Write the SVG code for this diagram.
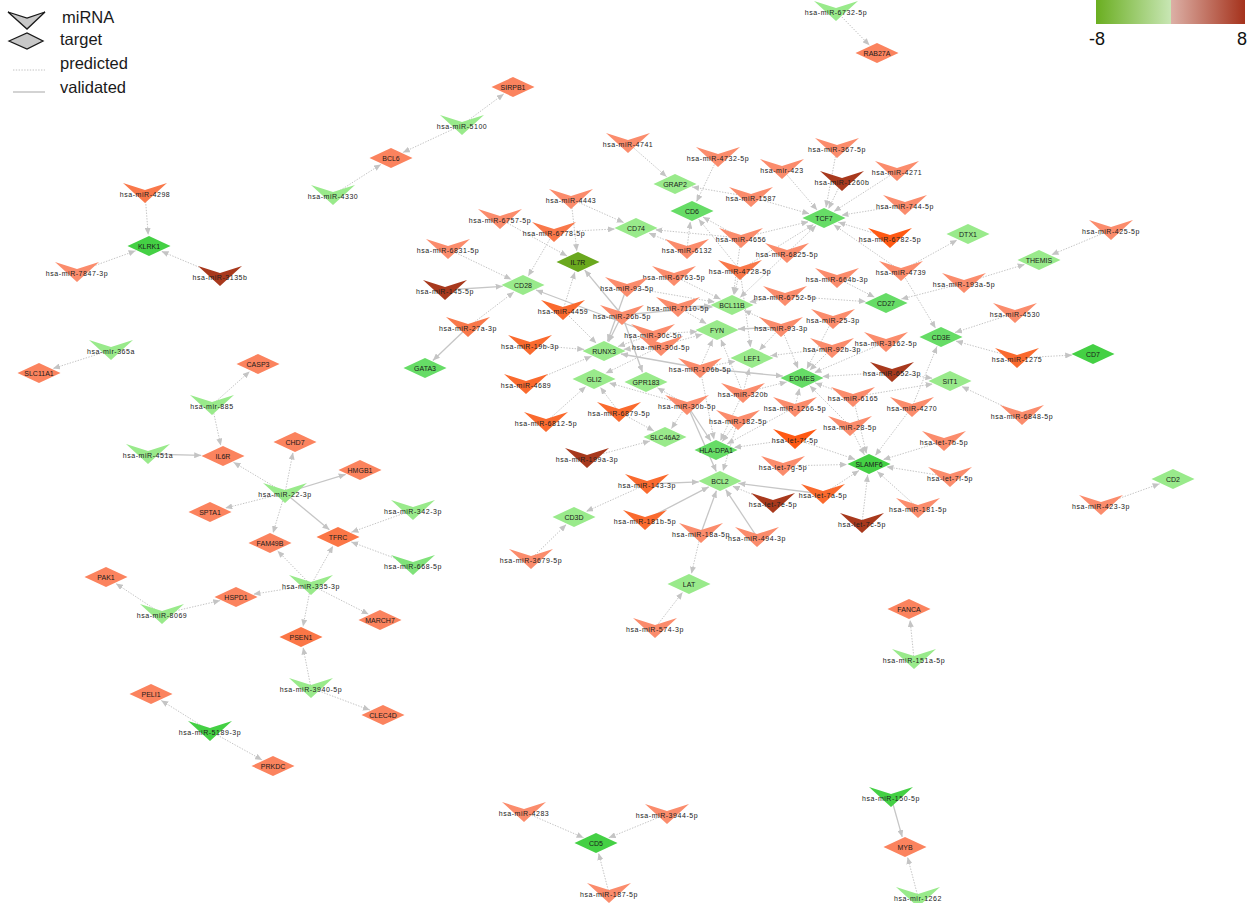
<svg xmlns="http://www.w3.org/2000/svg" width="1254" height="903" viewBox="0 0 1254 903">
<style>
.p{stroke:#c4c4c4;stroke-width:1;stroke-dasharray:1.4 1.4;fill:none;marker-end:url(#ah)}
.v{stroke:#c6c6c6;stroke-width:1.3;fill:none;marker-end:url(#ah)}
.ml{font-family:"Liberation Sans",Arial,sans-serif;font-size:7px;letter-spacing:0.55px;text-anchor:middle;fill:#222}
.tl{font-family:"Liberation Sans",Arial,sans-serif;font-size:7px;text-anchor:middle;fill:#1a1a1a}
.lg{font-family:"Liberation Sans",Arial,sans-serif;font-size:16.5px;fill:#1a1a1a}
.s{fill:#fb8c6c}.o{fill:#fa6a2e}.o2{fill:#ff5a14}.o3{fill:#f9784a}.r{fill:#a8391d}
.g1{fill:#99ea8b}.g2{fill:#66dc66}.g3{fill:#44d044}.gm{fill:#80e27a}.il{fill:#6aa81e}
.t{fill:#fb835e}.t2{fill:#fb7646}
</style>
<defs>
<marker id="ah" markerUnits="userSpaceOnUse" markerWidth="7" markerHeight="6" viewBox="0 0 7 6" refX="7" refY="3" orient="auto"><path d="M0,0 L7,3 L0,6 Z" fill="#c4c4c4"/></marker>
<path id="mir" d="M-22,-10 L0,-3 L22,-10 L0,10 Z"/>
<path id="tgt" d="M-21.5,0 L0,-10 L21.5,0 L0,10 Z"/>
<linearGradient id="gg" x1="0" x2="1" y1="0" y2="0"><stop offset="0" stop-color="#6aae20"/><stop offset="1" stop-color="#c8e6b4"/></linearGradient>
<linearGradient id="gr" x1="0" x2="1" y1="0" y2="0"><stop offset="0" stop-color="#dcb0a6"/><stop offset="1" stop-color="#a5321c"/></linearGradient>
</defs>

<g id="legend">
<path d="M8,12 L27,18 L45,12 L27,29 Z" fill="#c8c8c8" stroke="#1a1a1a" stroke-width="1.3"/>
<text class="lg" x="62" y="23">miRNA</text>
<path d="M9,41 L27,33 L43,41 L27,49 Z" fill="#c8c8c8" stroke="#1a1a1a" stroke-width="1.3"/>
<text class="lg" x="60" y="45">target</text>
<line x1="13" y1="70" x2="45" y2="70" stroke="#c2c2c2" stroke-width="1" stroke-dasharray="1.4 1.4"/>
<text class="lg" x="60" y="69">predicted</text>
<line x1="13" y1="92" x2="45" y2="92" stroke="#c4c4c4" stroke-width="1.5"/>
<text class="lg" x="60" y="93">validated</text>
</g>

<g id="colorscale">
<rect x="1096" y="0" width="75" height="24" fill="url(#gg)"/>
<rect x="1171" y="0" width="74" height="24" fill="url(#gr)"/>
<text x="1097" y="45" font-family="Liberation Sans, Arial, sans-serif" font-size="18" text-anchor="middle" fill="#111">-8</text>
<text x="1242" y="45" font-family="Liberation Sans, Arial, sans-serif" font-size="18" text-anchor="middle" fill="#111">8</text>
</g>

<g id="connectors">
<path class="p" d="M836 11 L869.5 45.3"/>
<path class="p" d="M462 125 L503.8 93.9"/>
<path class="p" d="M462 125 L402.9 152.5"/>
<path class="p" d="M333 195 L380.9 164.4"/>
<path class="p" d="M145 193 L148.2 234.9"/>
<path class="p" d="M77 272 L135.6 250.8"/>
<path class="p" d="M220 276 L161.5 251.3"/>
<path class="p" d="M111 350 L53 368.5"/>
<path class="p" d="M212 405 L249.7 371.4"/>
<path class="p" d="M212 405 L220.8 445.6"/>
<path class="v" d="M148 454 L201.2 455.4"/>
<path class="p" d="M285 493 L233.5 462.3"/>
<path class="p" d="M285 493 L293 452.5"/>
<path class="v" d="M285 493 L345.7 474.4"/>
<path class="p" d="M285 493 L225.3 508.1"/>
<path class="p" d="M285 493 L273 533"/>
<path class="v" d="M285 493 L329.4 529.8"/>
<path class="p" d="M413 510 L351.4 532.2"/>
<path class="p" d="M413 565 L351.2 541.9"/>
<path class="p" d="M311 585 L277.5 550.7"/>
<path class="p" d="M311 585 L333 546"/>
<path class="p" d="M311 585 L253.4 594.2"/>
<path class="p" d="M311 585 L368.6 614.2"/>
<path class="p" d="M311 585 L303 626.5"/>
<path class="p" d="M162 614 L115.9 583.5"/>
<path class="p" d="M162 614 L220.2 600.6"/>
<path class="p" d="M311 688 L303.1 647.5"/>
<path class="p" d="M311 688 L369.9 710.1"/>
<path class="p" d="M210 731 L161.2 700.4"/>
<path class="p" d="M210 731 L262.1 759.9"/>
<path class="p" d="M524 812 L583.6 837.7"/>
<path class="p" d="M667 814 L608.7 837.8"/>
<path class="p" d="M609 893 L598.6 853.2"/>
<path class="v" d="M891 797 L902.2 836.9"/>
<path class="p" d="M918 897 L907.6 857.2"/>
<path class="p" d="M914 659 L910.1 620"/>
<path class="p" d="M1111 230 L1051.5 254.8"/>
<path class="p" d="M964 283 L1024.7 264.4"/>
<path class="p" d="M1015 313 L955 332.5"/>
<path class="p" d="M1017 358 L955.8 341.1"/>
<path class="p" d="M1017 358 L1072.2 355.1"/>
<path class="p" d="M1022 415 L961.8 386.6"/>
<path class="p" d="M1101 505 L1159.6 483.8"/>
<path class="p" d="M901 271 L957.1 240"/>
<path class="v" d="M468 327 L432.9 360.5"/>
<path class="p" d="M468 327 L513.9 292"/>
<path class="v" d="M445 290 L502.6 286.3"/>
<path class="p" d="M448 249 L511.3 279.4"/>
<path class="p" d="M554 232 L528.2 276.1"/>
<path class="p" d="M554 232 L615 229"/>
<path class="p" d="M571 199 L623.8 222.6"/>
<path class="p" d="M571 199 L576.8 251.1"/>
<path class="p" d="M500 219 L567.1 256"/>
<path class="p" d="M628 143 L666.6 176.7"/>
<path class="p" d="M751 197 L692.1 186.9"/>
<path class="p" d="M718 157 L696.5 201.7"/>
<path class="p" d="M741 238 L702.9 217"/>
<path class="p" d="M687 249 L690.3 221.6"/>
<path class="p" d="M687 249 L648.8 233.1"/>
<path class="p" d="M741 238 L655.3 229.8"/>
<path class="p" d="M563 310 L574.9 272"/>
<path class="v" d="M622 315 L584.7 270.1"/>
<path class="v" d="M653 334 L536 290"/>
<path class="p" d="M782 169 L817.1 210"/>
<path class="p" d="M837 148 L826 207.5"/>
<path class="p" d="M842 181 L828.5 208.8"/>
<path class="p" d="M897 171 L834 211.5"/>
<path class="p" d="M905 205 L841.4 215.2"/>
<path class="p" d="M751 197 L809.4 213.8"/>
<path class="p" d="M890 238 L838.3 222.3"/>
<path class="p" d="M901 271 L833.7 224.7"/>
<path class="p" d="M741 238 L808.5 221.7"/>
<path class="p" d="M787 253 L816 225.5"/>
<path class="p" d="M740 270 L813.7 224.4"/>
<path class="p" d="M741 238 L733.4 294.2"/>
<path class="p" d="M740 270 L734.4 294.7"/>
<path class="p" d="M787 253 L740 297.5"/>
<path class="p" d="M674 276 L720.7 299.2"/>
<path class="p" d="M627 287 L714.9 302.1"/>
<path class="v" d="M678 307 L710.6 305.8"/>
<path class="p" d="M785 296 L749.2 302.1"/>
<path class="p" d="M781 327 L744.1 310.4"/>
<path class="v" d="M622 315 L712.5 306.8"/>
<path class="p" d="M740 270 L698.7 219.2"/>
<path class="p" d="M785 296 L865.8 301.6"/>
<path class="p" d="M964 283 L901.2 299.1"/>
<path class="p" d="M837 278 L874.6 297.2"/>
<path class="p" d="M901 271 L935.6 328.2"/>
<path class="p" d="M912 407 L937 346.5"/>
<path class="p" d="M853 397 L932.7 383.9"/>
<path class="p" d="M892 372 L932.4 378.3"/>
<path class="p" d="M832 348 L809.7 370.3"/>
<path class="p" d="M833 319 L806.8 368.9"/>
<path class="p" d="M892 372 L822.3 376.6"/>
<path class="p" d="M853 397 L815.2 382.9"/>
<path class="p" d="M795 407 L799.5 388.3"/>
<path class="p" d="M743 393 L786.8 381.9"/>
<path class="p" d="M850 426 L809.7 385.7"/>
<path class="p" d="M781 327 L798.1 368.5"/>
<path class="v" d="M700 368 L782.8 376.1"/>
<path class="p" d="M886 342 L814.4 372.7"/>
<path class="p" d="M781 327 L759.3 350.2"/>
<path class="p" d="M832 348 L770.4 355.7"/>
<path class="p" d="M743 393 L749.4 368.2"/>
<path class="p" d="M700 368 L735.4 361.2"/>
<path class="p" d="M740 270 L750.5 347.2"/>
<path class="v" d="M781 327 L738 329"/>
<path class="p" d="M678 307 L706.5 323.8"/>
<path class="p" d="M653 334 L697.2 331.6"/>
<path class="p" d="M661 346 L702.4 334.2"/>
<path class="p" d="M700 368 L712.8 339.4"/>
<path class="p" d="M743 393 L720.9 339.5"/>
<path class="p" d="M563 310 L596.3 343.3"/>
<path class="v" d="M622 315 L608.6 341.8"/>
<path class="p" d="M530 345 L584.2 349.4"/>
<path class="p" d="M526 384 L591.5 356.3"/>
<path class="p" d="M653 334 L618 346.5"/>
<path class="p" d="M661 346 L623.6 349.3"/>
<path class="v" d="M627 287 L607.5 341.3"/>
<path class="v" d="M700 368 L621 354"/>
<path class="p" d="M546 422 L585.8 386.4"/>
<path class="p" d="M619 412 L600.3 387.3"/>
<path class="p" d="M661 346 L605.6 373.3"/>
<path class="p" d="M687 405 L609.1 382.9"/>
<path class="v" d="M622 315 L642.5 372.2"/>
<path class="p" d="M687 405 L657.5 387.8"/>
<path class="p" d="M587 458 L650 441"/>
<path class="p" d="M619 412 L654 431"/>
<path class="p" d="M687 405 L671.3 428.7"/>
<path class="p" d="M743 393 L720.4 440.7"/>
<path class="p" d="M738 420 L722.2 441.6"/>
<path class="v" d="M687 405 L710.9 441"/>
<path class="p" d="M700 368 L714 439.5"/>
<path class="p" d="M795 439 L734 447.5"/>
<path class="p" d="M795 407 L727 444"/>
<path class="v" d="M647 484 L698.8 481.9"/>
<path class="v" d="M645 520 L708.7 486.9"/>
<path class="v" d="M701 533 L716.4 490.7"/>
<path class="v" d="M757 537 L725.7 489.6"/>
<path class="v" d="M823 494 L738.4 483.3"/>
<path class="p" d="M738 420 L723 471"/>
<path class="v" d="M687 405 L716.3 471.4"/>
<path class="p" d="M773 503 L732.6 486.2"/>
<path class="p" d="M783 466 L847 464.5"/>
<path class="p" d="M823 494 L859 470.5"/>
<path class="p" d="M862 523 L867.7 474.9"/>
<path class="p" d="M950 477 L886.4 466.8"/>
<path class="p" d="M918 508 L877.2 471.4"/>
<path class="p" d="M944 441 L883.3 459.6"/>
<path class="p" d="M850 426 L864.4 454.8"/>
<path class="p" d="M853 397 L866.5 453.7"/>
<path class="p" d="M912 407 L875.3 455.6"/>
<path class="p" d="M795 439 L855.3 459.4"/>
<path class="p" d="M647 484 L586.1 511.5"/>
<path class="p" d="M531 559 L566.2 524.6"/>
<path class="p" d="M701 533 L691.4 573.7"/>
<path class="p" d="M655 628 L682.6 592.3"/>
</g>

<g id="targets">
<g id="t-RAB27A" transform="translate(877,53)"><use href="#tgt" class="t"/><text class="tl" y="2.5">RAB27A</text></g>
<g id="t-SIRPB1" transform="translate(513,87)"><use href="#tgt" class="t"/><text class="tl" y="2.5">SIRPB1</text></g>
<g id="t-BCL6" transform="translate(391,158)"><use href="#tgt" class="t"/><text class="tl" y="2.5">BCL6</text></g>
<g id="t-KLRK1" transform="translate(149,246)"><use href="#tgt" class="g3"/><text class="tl" y="2.5">KLRK1</text></g>
<g id="t-SLC11A1" transform="translate(39,373)"><use href="#tgt" class="t"/><text class="tl" y="2.5">SLC11A1</text></g>
<g id="t-CASP3" transform="translate(258,364)"><use href="#tgt" class="t"/><text class="tl" y="2.5">CASP3</text></g>
<g id="t-IL6R" transform="translate(223,456)"><use href="#tgt" class="t"/><text class="tl" y="2.5">IL6R</text></g>
<g id="t-CHD7" transform="translate(295,442)"><use href="#tgt" class="t"/><text class="tl" y="2.5">CHD7</text></g>
<g id="t-HMGB1" transform="translate(360,470)"><use href="#tgt" class="t"/><text class="tl" y="2.5">HMGB1</text></g>
<g id="t-SPTA1" transform="translate(210,512)"><use href="#tgt" class="t"/><text class="tl" y="2.5">SPTA1</text></g>
<g id="t-FAM49B" transform="translate(270,543)"><use href="#tgt" class="t"/><text class="tl" y="2.5">FAM49B</text></g>
<g id="t-TFRC" transform="translate(338,537)"><use href="#tgt" class="t2"/><text class="tl" y="2.5">TFRC</text></g>
<g id="t-PAK1" transform="translate(106,577)"><use href="#tgt" class="t"/><text class="tl" y="2.5">PAK1</text></g>
<g id="t-HSPD1" transform="translate(236,597)"><use href="#tgt" class="t"/><text class="tl" y="2.5">HSPD1</text></g>
<g id="t-MARCH7" transform="translate(380,620)"><use href="#tgt" class="t"/><text class="tl" y="2.5">MARCH7</text></g>
<g id="t-PSEN1" transform="translate(301,637)"><use href="#tgt" class="t2"/><text class="tl" y="2.5">PSEN1</text></g>
<g id="t-CLEC4D" transform="translate(383,715)"><use href="#tgt" class="t"/><text class="tl" y="2.5">CLEC4D</text></g>
<g id="t-PELI1" transform="translate(151,694)"><use href="#tgt" class="t"/><text class="tl" y="2.5">PELI1</text></g>
<g id="t-PRKDC" transform="translate(273,766)"><use href="#tgt" class="t"/><text class="tl" y="2.5">PRKDC</text></g>
<g id="t-CD5" transform="translate(596,843)"><use href="#tgt" class="g3"/><text class="tl" y="2.5">CD5</text></g>
<g id="t-MYB" transform="translate(905,847)"><use href="#tgt" class="t"/><text class="tl" y="2.5">MYB</text></g>
<g id="t-FANCA" transform="translate(909,609)"><use href="#tgt" class="t"/><text class="tl" y="2.5">FANCA</text></g>
<g id="t-DTX1" transform="translate(968,234)"><use href="#tgt" class="g1"/><text class="tl" y="2.5">DTX1</text></g>
<g id="t-THEMIS" transform="translate(1039,260)"><use href="#tgt" class="g1"/><text class="tl" y="2.5">THEMIS</text></g>
<g id="t-CD3E" transform="translate(941,337)"><use href="#tgt" class="g2"/><text class="tl" y="2.5">CD3E</text></g>
<g id="t-CD7" transform="translate(1093,354)"><use href="#tgt" class="g3"/><text class="tl" y="2.5">CD7</text></g>
<g id="t-SIT1" transform="translate(950,381)"><use href="#tgt" class="g1"/><text class="tl" y="2.5">SIT1</text></g>
<g id="t-CD2" transform="translate(1173,479)"><use href="#tgt" class="g1"/><text class="tl" y="2.5">CD2</text></g>
<g id="t-GRAP2" transform="translate(675,184)"><use href="#tgt" class="g1"/><text class="tl" y="2.5">GRAP2</text></g>
<g id="t-CD6" transform="translate(692,211)"><use href="#tgt" class="g2"/><text class="tl" y="2.5">CD6</text></g>
<g id="t-CD74" transform="translate(636,228)"><use href="#tgt" class="g1"/><text class="tl" y="2.5">CD74</text></g>
<g id="t-IL7R" transform="translate(578,262)"><use href="#tgt" class="il"/><text class="tl" y="2.5">IL7R</text></g>
<g id="t-CD28" transform="translate(523,285)"><use href="#tgt" class="g1"/><text class="tl" y="2.5">CD28</text></g>
<g id="t-TCF7" transform="translate(824,218)"><use href="#tgt" class="g2"/><text class="tl" y="2.5">TCF7</text></g>
<g id="t-BCL11B" transform="translate(732,305)"><use href="#tgt" class="g1"/><text class="tl" y="2.5">BCL11B</text></g>
<g id="t-CD27" transform="translate(886,303)"><use href="#tgt" class="g2"/><text class="tl" y="2.5">CD27</text></g>
<g id="t-RUNX3" transform="translate(604,351)"><use href="#tgt" class="g1"/><text class="tl" y="2.5">RUNX3</text></g>
<g id="t-GATA3" transform="translate(425,368)"><use href="#tgt" class="g2"/><text class="tl" y="2.5">GATA3</text></g>
<g id="t-GLI2" transform="translate(594,379)"><use href="#tgt" class="g1"/><text class="tl" y="2.5">GLI2</text></g>
<g id="t-GPR183" transform="translate(646,382)"><use href="#tgt" class="g1"/><text class="tl" y="2.5">GPR183</text></g>
<g id="t-SLC46A2" transform="translate(665,437)"><use href="#tgt" class="g1"/><text class="tl" y="2.5">SLC46A2</text></g>
<g id="t-FYN" transform="translate(717,330)"><use href="#tgt" class="g1"/><text class="tl" y="2.5">FYN</text></g>
<g id="t-LEF1" transform="translate(752,358)"><use href="#tgt" class="g1"/><text class="tl" y="2.5">LEF1</text></g>
<g id="t-EOMES" transform="translate(802,378)"><use href="#tgt" class="g2"/><text class="tl" y="2.5">EOMES</text></g>
<g id="t-HLA-DPA1" transform="translate(716,450)"><use href="#tgt" class="g2"/><text class="tl" y="2.5">HLA-DPA1</text></g>
<g id="t-SLAMF6" transform="translate(869,464)"><use href="#tgt" class="g3"/><text class="tl" y="2.5">SLAMF6</text></g>
<g id="t-BCL2" transform="translate(720,481)"><use href="#tgt" class="g1"/><text class="tl" y="2.5">BCL2</text></g>
<g id="t-CD3D" transform="translate(574,517)"><use href="#tgt" class="g1"/><text class="tl" y="2.5">CD3D</text></g>
<g id="t-LAT" transform="translate(689,584)"><use href="#tgt" class="g1"/><text class="tl" y="2.5">LAT</text></g>
</g>

<g id="mirnas">
<g id="m-6732-5p" transform="translate(836,11)"><use href="#mir" class="g1"/><text class="ml" y="3.5">hsa-miR-6732-5p</text></g>
<g id="m-5100" transform="translate(462,125)"><use href="#mir" class="g1"/><text class="ml" y="3.5">hsa-miR-5100</text></g>
<g id="m-4330" transform="translate(333,195)"><use href="#mir" class="g1"/><text class="ml" y="3.5">hsa-miR-4330</text></g>
<g id="m-4298" transform="translate(145,193)"><use href="#mir" class="o3"/><text class="ml" y="3.5">hsa-miR-4298</text></g>
<g id="m-7847-3p" transform="translate(77,272)"><use href="#mir" class="s"/><text class="ml" y="3.5">hsa-miR-7847-3p</text></g>
<g id="m-3135b" transform="translate(220,276)"><use href="#mir" class="r"/><text class="ml" y="3.5">hsa-miR-3135b</text></g>
<g id="m-365a" transform="translate(111,350)"><use href="#mir" class="g1"/><text class="ml" y="3.5">hsa-mir-365a</text></g>
<g id="m-885" transform="translate(212,405)"><use href="#mir" class="g1"/><text class="ml" y="3.5">hsa-mir-885</text></g>
<g id="m-451a" transform="translate(148,454)"><use href="#mir" class="g1"/><text class="ml" y="3.5">hsa-miR-451a</text></g>
<g id="m-22-3p" transform="translate(285,493)"><use href="#mir" class="g1"/><text class="ml" y="3.5">hsa-miR-22-3p</text></g>
<g id="m-342-3p" transform="translate(413,510)"><use href="#mir" class="g1"/><text class="ml" y="3.5">hsa-miR-342-3p</text></g>
<g id="m-668-5p" transform="translate(413,565)"><use href="#mir" class="gm"/><text class="ml" y="3.5">hsa-miR-668-5p</text></g>
<g id="m-335-3p" transform="translate(311,585)"><use href="#mir" class="g1"/><text class="ml" y="3.5">hsa-miR-335-3p</text></g>
<g id="m-8069" transform="translate(162,614)"><use href="#mir" class="g1"/><text class="ml" y="3.5">hsa-miR-8069</text></g>
<g id="m-3940-5p" transform="translate(311,688)"><use href="#mir" class="g1"/><text class="ml" y="3.5">hsa-miR-3940-5p</text></g>
<g id="m-5189-3p" transform="translate(210,731)"><use href="#mir" class="g3"/><text class="ml" y="3.5">hsa-miR-5189-3p</text></g>
<g id="m-4283" transform="translate(524,812)"><use href="#mir" class="s"/><text class="ml" y="3.5">hsa-miR-4283</text></g>
<g id="m-3944-5p" transform="translate(667,814)"><use href="#mir" class="s"/><text class="ml" y="3.5">hsa-miR-3944-5p</text></g>
<g id="m-187-5p" transform="translate(609,893)"><use href="#mir" class="s"/><text class="ml" y="3.5">hsa-miR-187-5p</text></g>
<g id="m-150-5p" transform="translate(891,797)"><use href="#mir" class="g3"/><text class="ml" y="3.5">hsa-miR-150-5p</text></g>
<g id="m-1262" transform="translate(918,897)"><use href="#mir" class="g1"/><text class="ml" y="3.5">hsa-mir-1262</text></g>
<g id="m-151a-5p" transform="translate(914,659)"><use href="#mir" class="g1"/><text class="ml" y="3.5">hsa-miR-151a-5p</text></g>
<g id="m-425-5p" transform="translate(1111,230)"><use href="#mir" class="s"/><text class="ml" y="3.5">hsa-miR-425-5p</text></g>
<g id="m-193a-5p" transform="translate(964,283)"><use href="#mir" class="s"/><text class="ml" y="3.5">hsa-miR-193a-5p</text></g>
<g id="m-4530" transform="translate(1015,313)"><use href="#mir" class="s"/><text class="ml" y="3.5">hsa-miR-4530</text></g>
<g id="m-1275" transform="translate(1017,358)"><use href="#mir" class="o"/><text class="ml" y="3.5">hsa-miR-1275</text></g>
<g id="m-6848-5p" transform="translate(1022,415)"><use href="#mir" class="s"/><text class="ml" y="3.5">hsa-miR-6848-5p</text></g>
<g id="m-423-3p" transform="translate(1101,505)"><use href="#mir" class="s"/><text class="ml" y="3.5">hsa-miR-423-3p</text></g>
<g id="m-4741" transform="translate(628,143)"><use href="#mir" class="s"/><text class="ml" y="3.5">hsa-miR-4741</text></g>
<g id="m-4443" transform="translate(571,199)"><use href="#mir" class="s"/><text class="ml" y="3.5">hsa-miR-4443</text></g>
<g id="m-6757-5p" transform="translate(500,219)"><use href="#mir" class="s"/><text class="ml" y="3.5">hsa-miR-6757-5p</text></g>
<g id="m-6778-5p" transform="translate(554,232)"><use href="#mir" class="o3"/><text class="ml" y="3.5">hsa-miR-6778-5p</text></g>
<g id="m-6831-5p" transform="translate(448,249)"><use href="#mir" class="s"/><text class="ml" y="3.5">hsa-miR-6831-5p</text></g>
<g id="m-6132" transform="translate(687,249)"><use href="#mir" class="s"/><text class="ml" y="3.5">hsa-miR-6132</text></g>
<g id="m-145-5p" transform="translate(445,290)"><use href="#mir" class="r"/><text class="ml" y="3.5">hsa-miR-145-5p</text></g>
<g id="m-6763-5p" transform="translate(674,276)"><use href="#mir" class="s"/><text class="ml" y="3.5">hsa-miR-6763-5p</text></g>
<g id="m-93-5p" transform="translate(627,287)"><use href="#mir" class="s"/><text class="ml" y="3.5">hsa-miR-93-5p</text></g>
<g id="m-7110-5p" transform="translate(678,307)"><use href="#mir" class="s"/><text class="ml" y="3.5">hsa-miR-7110-5p</text></g>
<g id="m-4732-5p" transform="translate(718,157)"><use href="#mir" class="s"/><text class="ml" y="3.5">hsa-miR-4732-5p</text></g>
<g id="m-423" transform="translate(782,169)"><use href="#mir" class="s"/><text class="ml" y="3.5">hsa-mir-423</text></g>
<g id="m-367-5p" transform="translate(837,148)"><use href="#mir" class="s"/><text class="ml" y="3.5">hsa-miR-367-5p</text></g>
<g id="m-1260b" transform="translate(842,181)"><use href="#mir" class="r"/><text class="ml" y="3.5">hsa-miR-1260b</text></g>
<g id="m-4271" transform="translate(897,171)"><use href="#mir" class="s"/><text class="ml" y="3.5">hsa-miR-4271</text></g>
<g id="m-1587" transform="translate(751,197)"><use href="#mir" class="s"/><text class="ml" y="3.5">hsa-miR-1587</text></g>
<g id="m-744-5p" transform="translate(905,205)"><use href="#mir" class="s"/><text class="ml" y="3.5">hsa-miR-744-5p</text></g>
<g id="m-4656" transform="translate(741,238)"><use href="#mir" class="s"/><text class="ml" y="3.5">hsa-miR-4656</text></g>
<g id="m-6782-5p" transform="translate(890,238)"><use href="#mir" class="o2"/><text class="ml" y="3.5">hsa-miR-6782-5p</text></g>
<g id="m-6825-5p" transform="translate(787,253)"><use href="#mir" class="s"/><text class="ml" y="3.5">hsa-miR-6825-5p</text></g>
<g id="m-4728-5p" transform="translate(740,270)"><use href="#mir" class="o3"/><text class="ml" y="3.5">hsa-miR-4728-5p</text></g>
<g id="m-664b-3p" transform="translate(837,278)"><use href="#mir" class="s"/><text class="ml" y="3.5">hsa-miR-664b-3p</text></g>
<g id="m-4739" transform="translate(901,271)"><use href="#mir" class="s"/><text class="ml" y="3.5">hsa-miR-4739</text></g>
<g id="m-6752-5p" transform="translate(785,296)"><use href="#mir" class="s"/><text class="ml" y="3.5">hsa-miR-6752-5p</text></g>
<g id="m-4459" transform="translate(563,310)"><use href="#mir" class="o"/><text class="ml" y="3.5">hsa-miR-4459</text></g>
<g id="m-26b-5p" transform="translate(622,315)"><use href="#mir" class="s"/><text class="ml" y="3.5">hsa-miR-26b-5p</text></g>
<g id="m-27a-3p" transform="translate(468,327)"><use href="#mir" class="o3"/><text class="ml" y="3.5">hsa-miR-27a-3p</text></g>
<g id="m-30c-5p" transform="translate(653,334)"><use href="#mir" class="s"/><text class="ml" y="3.5">hsa-miR-30c-5p</text></g>
<g id="m-30d-5p" transform="translate(661,346)"><use href="#mir" class="s"/><text class="ml" y="3.5">hsa-miR-30d-5p</text></g>
<g id="m-19b-3p" transform="translate(530,345)"><use href="#mir" class="o"/><text class="ml" y="3.5">hsa-miR-19b-3p</text></g>
<g id="m-4689" transform="translate(526,384)"><use href="#mir" class="o"/><text class="ml" y="3.5">hsa-miR-4689</text></g>
<g id="m-6812-5p" transform="translate(546,422)"><use href="#mir" class="o"/><text class="ml" y="3.5">hsa-miR-6812-5p</text></g>
<g id="m-6879-5p" transform="translate(619,412)"><use href="#mir" class="o"/><text class="ml" y="3.5">hsa-miR-6879-5p</text></g>
<g id="m-30b-5p" transform="translate(687,405)"><use href="#mir" class="s"/><text class="ml" y="3.5">hsa-miR-30b-5p</text></g>
<g id="m-199a-3p" transform="translate(587,458)"><use href="#mir" class="r"/><text class="ml" y="3.5">hsa-miR-199a-3p</text></g>
<g id="m-106b-5p" transform="translate(700,368)"><use href="#mir" class="s"/><text class="ml" y="3.5">hsa-miR-106b-5p</text></g>
<g id="m-93-3p" transform="translate(781,327)"><use href="#mir" class="s"/><text class="ml" y="3.5">hsa-miR-93-3p</text></g>
<g id="m-25-3p" transform="translate(833,319)"><use href="#mir" class="s"/><text class="ml" y="3.5">hsa-miR-25-3p</text></g>
<g id="m-92b-3p" transform="translate(832,348)"><use href="#mir" class="s"/><text class="ml" y="3.5">hsa-miR-92b-3p</text></g>
<g id="m-3162-5p" transform="translate(886,342)"><use href="#mir" class="s"/><text class="ml" y="3.5">hsa-miR-3162-5p</text></g>
<g id="m-652-3p" transform="translate(892,372)"><use href="#mir" class="r"/><text class="ml" y="3.5">hsa-miR-652-3p</text></g>
<g id="m-320b" transform="translate(743,393)"><use href="#mir" class="s"/><text class="ml" y="3.5">hsa-miR-320b</text></g>
<g id="m-1266-5p" transform="translate(795,407)"><use href="#mir" class="s"/><text class="ml" y="3.5">hsa-miR-1266-5p</text></g>
<g id="m-6165" transform="translate(853,397)"><use href="#mir" class="s"/><text class="ml" y="3.5">hsa-miR-6165</text></g>
<g id="m-4270" transform="translate(912,407)"><use href="#mir" class="s"/><text class="ml" y="3.5">hsa-miR-4270</text></g>
<g id="m-182-5p" transform="translate(738,420)"><use href="#mir" class="s"/><text class="ml" y="3.5">hsa-miR-182-5p</text></g>
<g id="m-28-5p" transform="translate(850,426)"><use href="#mir" class="s"/><text class="ml" y="3.5">hsa-miR-28-5p</text></g>
<g id="m-let-7f-5p" transform="translate(795,439)"><use href="#mir" class="o2"/><text class="ml" y="3.5">hsa-let-7f-5p</text></g>
<g id="m-let-7b-5p" transform="translate(944,441)"><use href="#mir" class="s"/><text class="ml" y="3.5">hsa-let-7b-5p</text></g>
<g id="m-let-7g-5p" transform="translate(783,466)"><use href="#mir" class="s"/><text class="ml" y="3.5">hsa-let-7g-5p</text></g>
<g id="m-let-7i-5p" transform="translate(950,477)"><use href="#mir" class="s"/><text class="ml" y="3.5">hsa-let-7i-5p</text></g>
<g id="m-143-3p" transform="translate(647,484)"><use href="#mir" class="o"/><text class="ml" y="3.5">hsa-miR-143-3p</text></g>
<g id="m-let-7a-5p" transform="translate(823,494)"><use href="#mir" class="o"/><text class="ml" y="3.5">hsa-let-7a-5p</text></g>
<g id="m-let-7e-5p" transform="translate(773,503)"><use href="#mir" class="r"/><text class="ml" y="3.5">hsa-let-7e-5p</text></g>
<g id="m-let-7c-5p" transform="translate(862,523)"><use href="#mir" class="r"/><text class="ml" y="3.5">hsa-let-7c-5p</text></g>
<g id="m-181-5p" transform="translate(918,508)"><use href="#mir" class="s"/><text class="ml" y="3.5">hsa-miR-181-5p</text></g>
<g id="m-181b-5p" transform="translate(645,520)"><use href="#mir" class="o"/><text class="ml" y="3.5">hsa-miR-181b-5p</text></g>
<g id="m-18a-5p" transform="translate(701,533)"><use href="#mir" class="s"/><text class="ml" y="3.5">hsa-miR-18a-5p</text></g>
<g id="m-494-3p" transform="translate(757,537)"><use href="#mir" class="s"/><text class="ml" y="3.5">hsa-miR-494-3p</text></g>
<g id="m-3679-5p" transform="translate(531,559)"><use href="#mir" class="s"/><text class="ml" y="3.5">hsa-miR-3679-5p</text></g>
<g id="m-574-3p" transform="translate(655,628)"><use href="#mir" class="s"/><text class="ml" y="3.5">hsa-miR-574-3p</text></g>
</g>
</svg>
